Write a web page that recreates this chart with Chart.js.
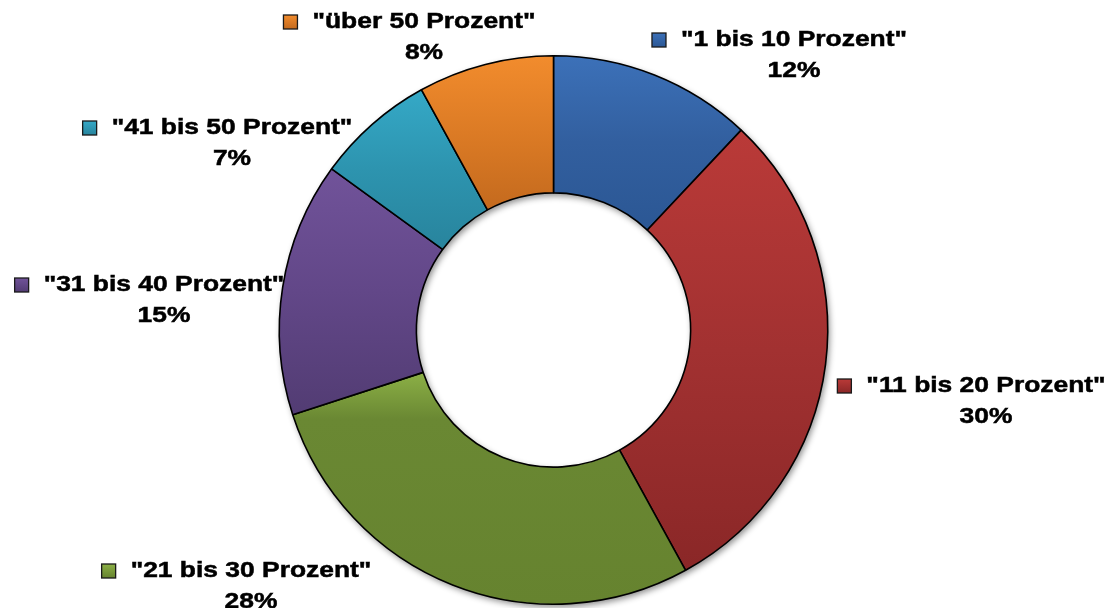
<!DOCTYPE html>
<html>
<head>
<meta charset="utf-8">
<script src="https://cdn.jsdelivr.net/npm/chart.js@4.4.0/dist/chart.umd.min.js"></script>
<style>
  html, body { margin: 0; padding: 0; background: #fff; }
  #wrap { width: 1107px; height: 608px; }
</style>
</head>
<body>
<div id="wrap"><canvas id="pieChart" width="1107" height="608"></canvas></div>
<script>
const categories = ['"1 bis 10 Prozent"', '"11 bis 20 Prozent"', '"21 bis 30 Prozent"', '"31 bis 40 Prozent"', '"41 bis 50 Prozent"', '"über 50 Prozent"'];
const shares = [12, 30, 28, 15, 7, 8];
const topColors = ['#3C71B9', '#BA3A38', '#8CB046', '#71539A', '#35A9C7', '#F28C2D'];
const midColors = ['#325F9F', '#A23131', '#6A8833', '#624788', '#2D94AF', '#DC7B25'];
const bottomColors = ['#2B5794', '#8A2727', '#66832F', '#523C73', '#28849D', '#C46A1E'];
const midStops = [0.5, 0.5, 0.2, 0.5, 0.5, 0.5];

// where each label block sits (center of the text line)
const labelSpots = [
    { x: 794, y: 40 },
    { x: 986, y: 386 },
    { x: 251, y: 571 },
    { x: 164, y: 285 },
    { x: 232, y: 128 },
    { x: 424, y: 22 }
];

// vertical gradient for one slice, like the office chart
function sliceGradient(context) {
    const chart = context.chart;
    const area = chart.chartArea;
    const i = context.dataIndex;
    if (!area || i === undefined) return topColors[i || 0];
    const cx = (area.left + area.right) / 2;
    const cy = (area.top + area.bottom) / 2;
    const outer = Math.min(area.right - area.left, area.bottom - area.top) / 2;
    const inner = outer * 0.5;
    const total = shares.reduce((a, b) => a + b, 0);
    let before = 0;
    for (let k = 0; k < i; k++) before += shares[k];
    const a0 = -Math.PI / 2 + 2 * Math.PI * before / total;
    const a1 = a0 + 2 * Math.PI * shares[i] / total;
    let minY = Infinity, maxY = -Infinity;
    for (let s = 0; s <= 40; s++) {
        const a = a0 + (a1 - a0) * s / 40;
        [outer, inner].forEach(function (r) {
            const y = cy + r * Math.sin(a);
            minY = Math.min(minY, y);
            maxY = Math.max(maxY, y);
        });
    }
    const g = chart.ctx.createLinearGradient(0, minY, 0, maxY);
    g.addColorStop(0, topColors[i]);
    g.addColorStop(midStops[i], midColors[i]);
    g.addColorStop(1, bottomColors[i]);
    return g;
}

// soft shadow under the ring
const shadowPlugin = {
    id: 'ringShadow',
    beforeDatasetsDraw(chart) {
        const arc = chart.getDatasetMeta(0).data[0];
        if (!arc) return;
        const ctx = chart.ctx;
        ctx.save();
        ctx.shadowColor = 'rgba(0,0,0,0.45)';
        ctx.shadowBlur = 6;
        ctx.shadowOffsetX = 2;
        ctx.shadowOffsetY = 3;
        ctx.fillStyle = '#fff';
        ctx.beginPath();
        ctx.arc(arc.x, arc.y, arc.outerRadius, 0, Math.PI * 2);
        ctx.arc(arc.x, arc.y, arc.innerRadius, 0, Math.PI * 2, true);
        ctx.fill('evenodd');
        ctx.restore();
    }
};

const stretch = 1.2;

const labelPlugin = {
    id: 'sliceLabels',
    afterDraw(chart) {
        const ctx = chart.ctx;
        const total = shares.reduce((a, b) => a + b, 0);
        categories.forEach(function (name, i) {
            const spot = labelSpots[i];
            const pct = Math.round(shares[i] / total * 100) + '%';
            ctx.save();
            ctx.font = 'bold 22px "Liberation Sans", Arial, sans-serif';
            ctx.fillStyle = '#000';
            ctx.strokeStyle = '#000';
            ctx.lineWidth = 0.5;
            ctx.textAlign = 'center';
            ctx.textBaseline = 'middle';
            const w = ctx.measureText(name).width * stretch;
            ctx.translate(spot.x, spot.y);
            ctx.scale(stretch, 1);
            ctx.fillText(name, 0, 0);
            ctx.strokeText(name, 0, 0);
            ctx.fillText(pct, 0, 31);
            ctx.strokeText(pct, 0, 31);
            ctx.restore();
            // little colour square in front of the name
            ctx.save();
            const sx = spot.x - w / 2 - 29;
            const sy = spot.y - 7;
            const g = ctx.createLinearGradient(0, sy, 0, sy + 14);
            g.addColorStop(0, topColors[i]);
            g.addColorStop(1, bottomColors[i]);
            ctx.fillStyle = g;
            ctx.fillRect(sx, sy, 14, 14);
            ctx.strokeStyle = '#1a1a1a';
            ctx.lineWidth = 1.3;
            ctx.strokeRect(sx, sy, 14, 14);
            ctx.restore();
        });
    }
};

const ctx = document.getElementById('pieChart').getContext('2d');
window.myPieChart = new Chart(ctx, {
    type: 'doughnut',
    data: {
        labels: categories,
        datasets: [{
            data: shares,
            backgroundColor: sliceGradient,
            borderColor: '#000',
            borderWidth: 1.6,
            borderAlign: 'center'
        }]
    },
    options: {
        responsive: false,
        animation: false,
        cutout: '50%',
        layout: { padding: { top: 55, bottom: 3, left: 0, right: 0 } },
        plugins: {
            legend: { display: false },
            tooltip: { enabled: false }
        }
    },
    plugins: [shadowPlugin, labelPlugin]
});
</script>
</body>
</html>
